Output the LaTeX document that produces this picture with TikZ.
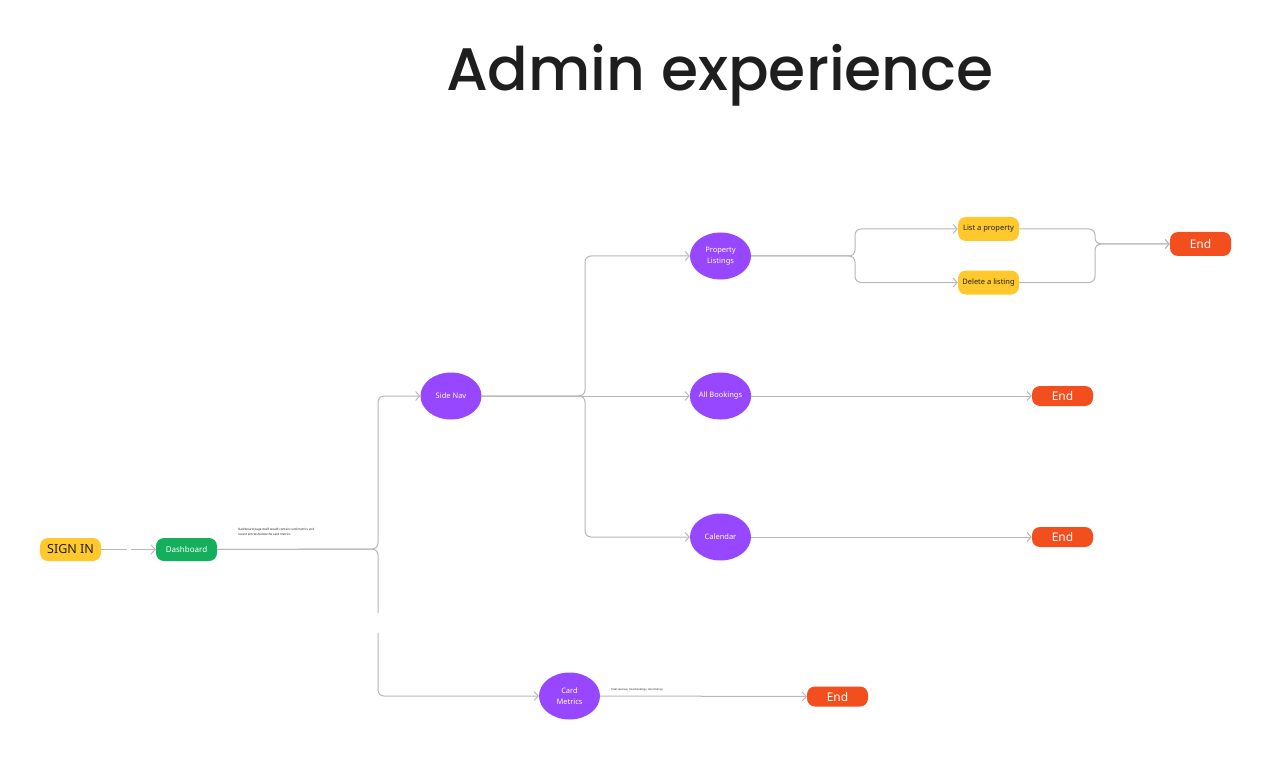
\documentclass[tikz,border=0pt]{standalone}
\usepackage{fontspec}
\setmainfont{Noto Sans}
\newfontfamily\titlefont{Poppins Medium}
\usetikzlibrary{arrows.meta,shapes.geometric}
\definecolor{lineGray}{HTML}{B8B8B8}
\definecolor{pillYellow}{HTML}{FFC82C}
\definecolor{pillGreen}{HTML}{14AE5C}
\definecolor{bubblePurple}{HTML}{9747FF}
\definecolor{endRed}{HTML}{F24E1E}
\definecolor{inkDark}{HTML}{1E1E1E}
\tikzset{
  conn/.style={draw=lineGray, line width=1pt, rounded corners=6pt},
  arr/.style={conn, -{Straight Barb[length=4pt,width=9pt,line width=1pt]}},
  pill/.style={rectangle, rounded corners=8pt, minimum width=61pt, minimum height=23pt, inner sep=0pt},
  signpill/.style={pill, fill=pillYellow, text=inkDark, font=\fontsize{12.5}{14}\selectfont},
  dashpill/.style={pill, fill=pillGreen, text=white, font=\fontsize{8}{10}\selectfont},
  taskpill/.style={pill, fill=pillYellow, text=inkDark, minimum height=24pt, font=\fontsize{7.5}{9}\selectfont},
  endpill/.style={pill, fill=endRed, text=white, minimum height=20pt, font=\fontsize{12}{14}\selectfont},
  bubble/.style={ellipse, fill=bubblePurple, text=white, minimum width=61pt, minimum height=47pt, inner sep=0pt, align=center, font=\fontsize{7.5}{11}\selectfont},
  note/.style={anchor=north west, align=left, text=inkDark, inner sep=0pt},
}
\begin{document}
\begin{tikzpicture}[x=1pt, y=-1pt]
\useasboundingbox (0,0) rectangle (1272,762);
\fill[white] (0,0) rectangle (1272,762);

\node[font=\titlefont\fontsize{60}{70}\selectfont, text=inkDark, anchor=base] (title) at (720,91) {Admin experience};

\node[signpill] (signin) at (70.5,549.5) {SIGN IN};
\node[dashpill] (dash) at (186.5,549.5) {Dashboard};
\node[note, font=\fontsize{3}{4.5}\selectfont] (dashnote) at (238,528.5) {Dashboard page itself would contain card metrics and\\recent entries below the card metrics};

\node[bubble] (sidenav) at (451,396) {Side Nav};
\node[bubble] (prop) at (720.5,256) {Property\\Listings};
\node[bubble] (allb) at (720.5,396) {All Bookings};
\node[bubble] (cal) at (720.5,537) {Calendar};
\node[bubble] (card) at (569.5,696) {Card\\Metrics};
\node[note, font=\fontsize{2.6}{3}\selectfont] (cardnote) at (611,688) {Total revenue, total bookings, total listings};

\node[taskpill] (list) at (988.5,229) {List a property};
\node[taskpill] (del) at (988.5,282.5) {Delete a listing};

\node[endpill, minimum height=24pt] (end1) at (1200.5,244) {End};
\node[endpill] (end2) at (1062.5,396) {End};
\node[endpill] (end3) at (1062.5,537) {End};
\node[endpill] (end4) at (837.5,696.5) {End};

% connectors
\draw[arr, dash pattern=on 26pt off 4pt on 100pt] (signin.east) -- (dash.west);
\draw[arr] (dash.east) -- (378,549) |- (sidenav.west);
\draw[arr, dash pattern=on 222pt off 20pt on 400pt] (dash.east) -- (378,549) |- (card.west);

\draw[arr] (sidenav.east) -- (585,396) |- (prop.west);
\draw[arr] (sidenav.east) -- (allb.west);
\draw[arr] (sidenav.east) -- (585,396) |- (cal.west);

\draw[arr] (prop.east) -- (855,256) |- (list.west);
\draw[arr] (prop.east) -- (855,256) |- (del.west);
\draw[arr] (list.east) -- (1095,229) |- (end1.west);
\draw[arr] (del.east) -- (1095,282.5) |- (end1.west);

\draw[arr] (allb.east) -- (end2.west);
\draw[arr] (cal.east) -- (end3.west);
\draw[arr] (card.east) -- (end4.west);
\end{tikzpicture}
\end{document}
